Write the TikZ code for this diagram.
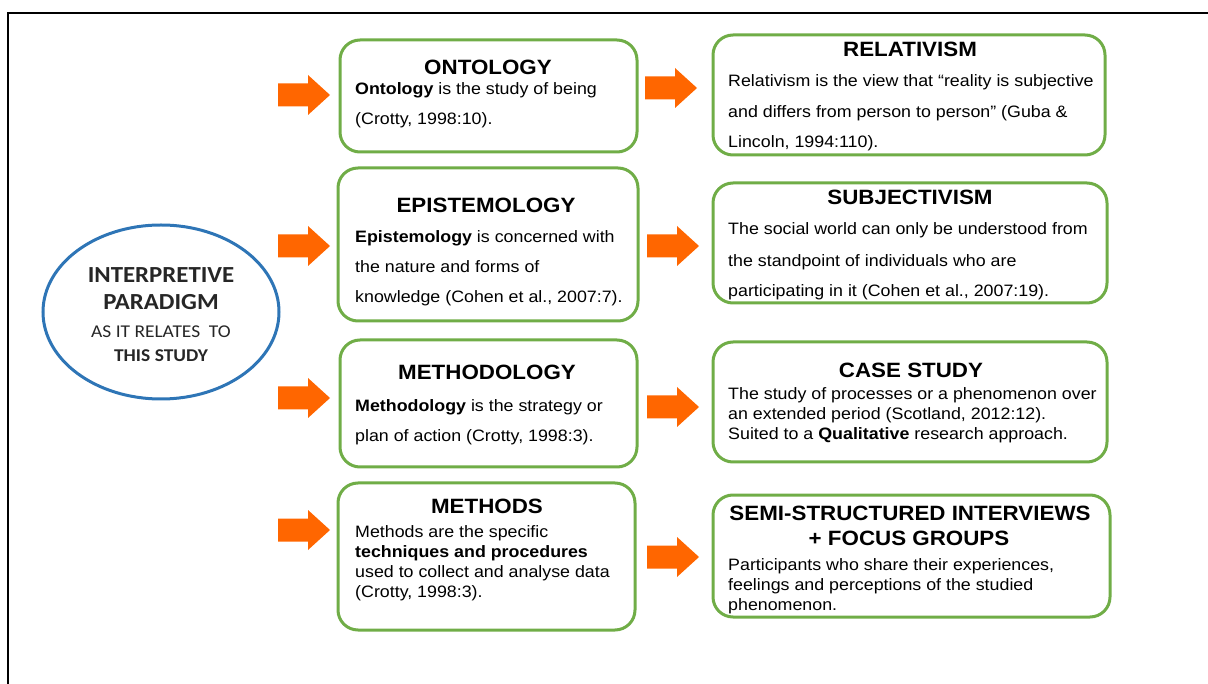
\documentclass[tikz,border=0pt]{standalone}
\usepackage{fontspec}
\setmainfont[FakeStretch=1.08]{Liberation Sans}
\newfontfamily\calib[FakeStretch=1.08]{Carlito}
\usetikzlibrary{shapes.geometric}
\definecolor{boxgreen}{HTML}{70AD47}
\definecolor{arroworange}{HTML}{FF6600}
\definecolor{ellblue}{HTML}{2E75B6}
\begin{document}
\begin{tikzpicture}[x=1pt,y=-1pt,
  box/.style={draw=boxgreen, line width=3pt, rounded corners=20pt, inner sep=0pt},
  ttl/.style={font=\fontsize{20.7}{24}\selectfont\bfseries, anchor=base, inner sep=0pt},
  txt/.style={font=\fontsize{16.5}{20}\selectfont, anchor=base west, inner sep=0pt},
  etxt/.style={anchor=base, inner sep=0pt, text=black!85},
  blockarrow/.pic={\fill[arroworange] (0,-11.5) -- (30,-11.5) -- (30,-20) -- (52,0) -- (30,20) -- (30,11.5) -- (0,11.5) -- cycle;}
]
\useasboundingbox (0,0) rectangle (1208,684);
% frame
\coordinate (fbl) at (8,684);
\coordinate (ftl) at (8,13);
\coordinate (ftr) at (1208,13);
\draw[line width=2pt] (fbl) -- (ftl) -- (ftr);

% ellipse
\node[draw=ellblue, line width=3pt, ellipse, minimum width=236pt, minimum height=174pt, inner sep=0pt] (para) at (161,312) {};
\node[etxt, font=\calib\fontsize{23}{26}\selectfont\bfseries] (e1) at (161,283) {INTERPRETIVE};
\node[etxt, font=\calib\fontsize{23}{26}\selectfont\bfseries] (e2) at (161,310) {PARADIGM};
\node[etxt, font=\calib\fontsize{18}{22}\selectfont] (e3) at (161,338) {AS IT RELATES\ \ TO};
\node[etxt, font=\calib\fontsize{18}{22}\selectfont\bfseries] (e4) at (161,362) {THIS STUDY};

% boxes
\node[box, minimum width=297pt, minimum height=112pt] (ont) at (488.5,96) {};
\node[box, minimum width=392pt, minimum height=120pt] (rel) at (909,95) {};
\node[box, minimum width=300pt, minimum height=153pt] (epi) at (488,244.5) {};
\node[box, minimum width=394pt, minimum height=120pt] (sub) at (910,243) {};
\node[box, minimum width=297pt, minimum height=127pt] (meth) at (488.5,403.5) {};
\node[box, minimum width=394pt, minimum height=120pt] (case) at (910,402) {};
\node[box, minimum width=297pt, minimum height=147pt] (mtd) at (486.5,556.5) {};
\node[box, minimum width=397pt, minimum height=122pt] (semi) at (911.5,556) {};

% arrows
\pic (a1) at (278,95) {blockarrow};
\pic (a2) at (278,246) {blockarrow};
\pic (a3) at (278,398) {blockarrow};
\pic (a4) at (278,530) {blockarrow};
\pic (b1) at (645,88) {blockarrow};
\pic (b2) at (647,246) {blockarrow};
\pic (b3) at (647,407) {blockarrow};
\pic (b4) at (647,557) {blockarrow};

% ontology
\node[ttl] (ontT) at (488,75) {ONTOLOGY};
\node[txt] (ont1) at (355,95) {\textbf{Ontology} is the study of being};
\node[txt] (ont2) at (355,125) {(Crotty, 1998:10).};
% relativism
\node[ttl] (relT) at (910,57) {RELATIVISM};
\node[txt] (rel1) at (728,87) {Relativism is the view that “reality is subjective};
\node[txt] (rel2) at (728,118) {and differs from person to person” (Guba \&};
\node[txt] (rel3) at (728,148) {Lincoln, 1994:110).};
% epistemology
\node[ttl] (epiT) at (486,213) {EPISTEMOLOGY};
\node[txt] (epi1) at (355,243) {\textbf{Epistemology} is concerned with};
\node[txt] (epi2) at (355,273) {the nature and forms of};
\node[txt] (epi3) at (355,303) {knowledge (Cohen et al., 2007:7).};
% subjectivism
\node[ttl] (subT) at (910,205) {SUBJECTIVISM};
\node[txt] (sub1) at (728,235) {The social world can only be understood from};
\node[txt] (sub2) at (728,267) {the standpoint of individuals who are};
\node[txt] (sub3) at (728,297) {participating in it (Cohen et al., 2007:19).};
% methodology
\node[ttl] (methT) at (487,380) {METHODOLOGY};
\node[txt] (meth1) at (355,412) {\textbf{Methodology} is the strategy or};
\node[txt] (meth2) at (355,442) {plan of action (Crotty, 1998:3).};
% case study
\node[ttl] (caseT) at (911,378) {CASE STUDY};
\node[txt] (case1) at (728,400) {The study of processes or a phenomenon over};
\node[txt] (case2) at (728,420) {an extended period (Scotland, 2012:12).};
\node[txt] (case3) at (728,440) {Suited to a \textbf{Qualitative} research approach.};
% methods
\node[ttl] (mtdT) at (487,513) {METHODS};
\node[txt] (mtd1) at (355,537) {Methods are the specific};
\node[txt] (mtd2) at (355,557) {\textbf{techniques and procedures}};
\node[txt] (mtd3) at (355,577) {used to collect and analyse data};
\node[txt] (mtd4) at (355,597) {(Crotty, 1998:3).};
% semi-structured
\node[ttl] (semiT1) at (910,520) {SEMI-STRUCTURED INTERVIEWS};
\node[ttl] (semiT2) at (909,545) {+ FOCUS GROUPS};
\node[txt] (semi1) at (728,570) {Participants who share their experiences,};
\node[txt] (semi2) at (728,590) {feelings and perceptions of the studied};
\node[txt] (semi3) at (728,610) {phenomenon.};
\end{tikzpicture}
\end{document}
